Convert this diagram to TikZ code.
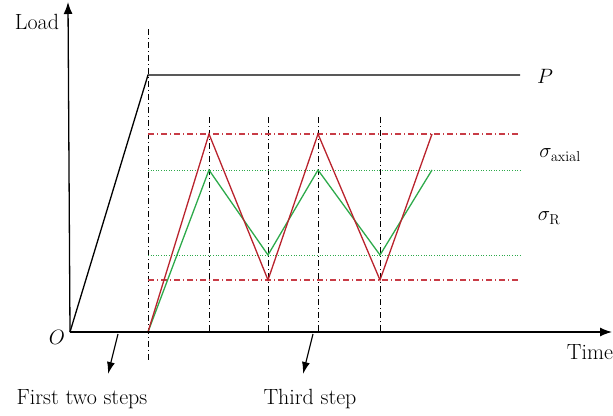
\documentclass[tikz,border=0pt]{standalone}
\usetikzlibrary{arrows.meta}
\definecolor{cred}{RGB}{185,35,45}
\definecolor{cgreen}{RGB}{45,170,75}
\definecolor{lred}{RGB}{200,60,70}
\begin{document}
\begin{tikzpicture}[x=1pt,y=-1pt,
  lbl/.style={inner sep=0pt,font=\fontsize{22}{26}\selectfont},
  axis/.style={line width=1.3pt,-{Latex[length=12pt,width=9pt]}},
  pointer/.style={line width=1.2pt,-{Latex[length=12pt,width=8pt]}},
  vdash/.style={line width=1pt,dash pattern=on 6pt off 3pt on 1pt off 3pt},
  rdash/.style={lred,line width=1.2pt,dash pattern=on 6pt off 3pt on 1pt off 3pt},
  gdot/.style={cgreen,line width=1pt,dash pattern=on 1pt off 1.6pt},
  redl/.style={cred,line width=1.3pt},
  greenl/.style={cgreen,line width=1.3pt}]
\useasboundingbox (0,0) rectangle (613,415);
% coordinates
\coordinate (O) at (70,332);
\coordinate (ytop) at (68,2);
\coordinate (xend) at (612,332);
\coordinate (Pc) at (148,75);
\coordinate (Pe) at (520,75);
% vertical dash-dot lines
\coordinate (v0t) at (148,29); \coordinate (v0b) at (148,360);
\coordinate (v1t) at (209,117); \coordinate (v1b) at (209,332);
\coordinate (v2t) at (268,117); \coordinate (v2b) at (268,332);
\coordinate (v3t) at (318,117); \coordinate (v3b) at (318,332);
\coordinate (v4t) at (380,117); \coordinate (v4b) at (380,332);
\draw[vdash] (v0t) -- (v0b);
\draw[vdash] (v1t) -- (v1b);
\draw[vdash] (v2t) -- (v2b);
\draw[vdash] (v3t) -- (v3b);
\draw[vdash] (v4t) -- (v4b);
% horizontal level lines
\coordinate (ra1) at (148,134); \coordinate (ra2) at (520,134);
\coordinate (rb1) at (148,280); \coordinate (rb2) at (520,280);
\coordinate (ga1) at (148,170); \coordinate (ga2) at (520,170);
\coordinate (gb1) at (148,255); \coordinate (gb2) at (520,255);
\draw[rdash] (ra1) -- (ra2);
\draw[rdash] (rb1) -- (rb2);
\draw[gdot] (ga1) -- (ga2);
\draw[gdot] (gb1) -- (gb2);
% load curve
\draw[line width=1.3pt] (O) -- (Pc) -- (Pe);
% cycles
\coordinate (S) at (148,332);
\coordinate (r1) at (209,134); \coordinate (r2) at (268,280);
\coordinate (r3) at (318,134); \coordinate (r4) at (380,280);
\coordinate (r5) at (432,134);
\coordinate (g1) at (209,170); \coordinate (g2) at (268,255);
\coordinate (g3) at (318,170); \coordinate (g4) at (380,255);
\coordinate (g5) at (432,170);
\draw[greenl] (S) -- (g1) -- (g2) -- (g3) -- (g4) -- (g5);
\draw[redl] (S) -- (r1) -- (r2) -- (r3) -- (r4) -- (r5);
% axes
\draw[axis] (O) -- (ytop);
\draw[axis] (O) -- (xend);
% labels
\node[lbl] (load) at (37,22) {Load};
\node[lbl] (o) at (57,337) {$O$};
\node[lbl] (time) at (590,352) {Time};
\node[lbl] (p) at (545,76) {$P$};
\node[lbl] (sa) at (560,155) {$\sigma_{\mathrm{axial}}$};
\node[lbl] (sr) at (549,218) {$\sigma_{\mathrm{R}}$};
\node[lbl] (first) at (82,399) {First two steps};
\node[lbl] (third) at (310,399) {Third step};
% pointers
\coordinate (a1s) at (118,334); \coordinate (a1e) at (108,374);
\coordinate (a2s) at (313,334); \coordinate (a2e) at (303,374);
\draw[pointer] (a1s) -- (a1e);
\draw[pointer] (a2s) -- (a2e);
\end{tikzpicture}
\end{document}
